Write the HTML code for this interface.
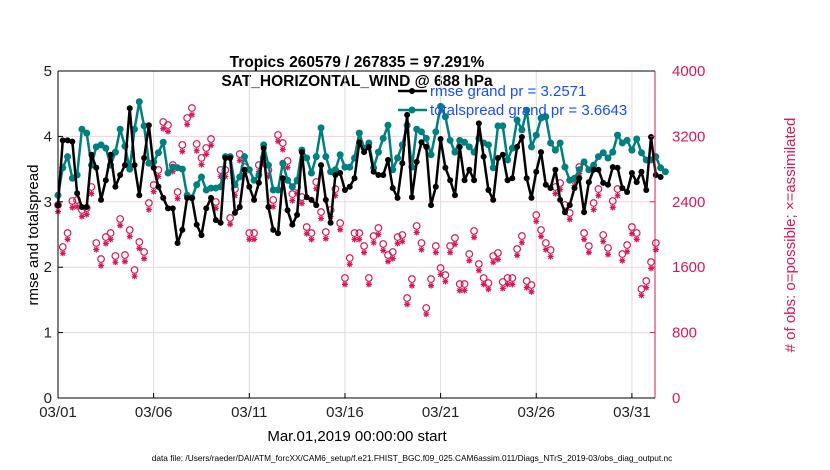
<!DOCTYPE html>
<html><head><meta charset="utf-8">
<style>
html,body{margin:0;padding:0;background:#fff;}
svg{display:block;font-family:"Liberation Sans",sans-serif;}
</style></head>
<body>
<svg id="chart" width="830" height="470" viewBox="0 0 830 470" xmlns="http://www.w3.org/2000/svg">
<rect width="830" height="470" fill="#fff"/>
<text x="357" y="67" text-anchor="middle" font-size="15.5" font-weight="bold">Tropics 260579 / 267835 = 97.291%</text>
<text x="357" y="86" text-anchor="middle" font-size="15.5" font-weight="bold">SAT_HORIZONTAL_WIND @ 688 hPa</text>
<g id="grid"></g>
<g id="obs"></g>
<g id="lines"></g>
<g id="axes"></g>
<g>
 <g>
  <line x1="398" y1="91" x2="427" y2="91" stroke="#000" stroke-width="2.5"/>
  <circle cx="412" cy="91" r="3" fill="#000"/>
  <text x="430" y="96" font-size="15" fill="#1a4cff">rmse grand pr = 3.2571</text>
 </g>
 <g>
  <line x1="398" y1="110" x2="427" y2="110" stroke="#007f7f" stroke-width="2.5"/>
  <circle cx="412" cy="110" r="3.5" fill="#007f7f"/>
  <text x="430" y="115" font-size="15" fill="#1a4cff">totalspread grand pr = 3.6643</text>
 </g>
</g>
<text transform="translate(38,235) rotate(-90)" text-anchor="middle" font-size="15">rmse and totalspread</text>
<text transform="translate(795,235) rotate(-90)" text-anchor="middle" font-size="15" fill="#d6195a"># of obs: o=possible; ×=assimilated</text>
<text x="357" y="441" text-anchor="middle" font-size="15">Mar.01,2019 00:00:00 start</text>
<text x="412" y="461" text-anchor="middle" font-size="8.3">data file: /Users/raeder/DAI/ATM_forcXX/CAM6_setup/f.e21.FHIST_BGC.f09_025.CAM6assim.011/Diags_NTrS_2019-03/obs_diag_output.nc</text>
</svg>
<script>
const rmse=[2.95,3.94,3.94,3.92,3.13,2.92,2.92,3.72,3.52,3.03,3.33,3.72,3.23,3.41,3.56,4.43,3.56,3.10,3.67,4.17,3.52,3.23,3.06,2.9,2.9,2.37,2.57,3.06,3.06,2.65,2.49,2.9,
3.06,2.72,2.68,3.67,3.67,2.83,2.92,3.49,3.23,3.03,3.29,3.82,2.92,2.57,2.52,3.36,2.87,2.65,2.80,3.76,3.07,3.03,2.95,3.56,3.03,2.68,3.41,3.44,3.18,3.23,3.36,3.91,
3.76,3.84,3.46,3.41,3.41,3.64,3.21,3.06,3.59,4.33,3.07,3.61,3.91,3.84,2.95,3.23,3.96,3.52,3.33,3.10,3.84,3.33,3.49,3.33,4.20,3.69,3.18,3.03,3.67,3.72,3.33,3.36,
3.84,3.99,3.36,3.06,3.46,3.76,3.26,3.21,3.49,3.03,2.84,2.95,3.21,3.36,2.84,3.30,3.49,3.49,3.29,3.26,3.53,3.52,3.21,3.15,3.44,3.30,3.46,3.18,3.99,3.41,3.38];
const spread=[3.10,3.52,3.69,3.36,3.41,4.11,4.05,3.56,3.84,3.87,3.82,3.56,3.76,4.11,3.85,3.5,4.11,4.53,4.16,3.59,3.61,3.75,3.91,3.44,3.53,3.52,3.5,3.10,3.06,3.26,3.38,3.18,
3.21,3.21,3.23,3.69,3.69,3.26,3.38,3.69,3.49,3.33,3.41,3.87,3.56,3.18,3.18,3.59,3.33,3.23,3.33,3.79,3.67,3.44,3.69,4.13,3.69,3.46,3.49,3.72,3.53,3.53,3.67,4.05,
3.82,3.90,3.52,3.76,3.97,4.17,3.49,3.67,3.87,4.17,3.53,4.11,4.07,3.97,3.72,4.07,4.46,4.30,3.94,3.76,3.94,3.91,3.84,3.76,3.97,3.90,3.87,3.52,4.16,4.16,3.64,3.82,
4.25,4.10,4.40,3.84,4.02,4.28,4.30,3.90,3.79,3.90,3.53,3.33,3.36,3.49,3.61,3.49,3.56,3.69,3.75,3.67,3.76,4.02,3.90,3.94,3.79,3.96,3.75,3.64,3.64,3.69,3.52,3.46];
const possible=[2361,1847,2018,2410,2422,2300,2324,2581,1896,1700,1969,2018,1737,2190,1749,2055,1566,1908,1786,2385,2605,2789,3376,3339,2850,2520,3095,3425,3547,3107,2936,3058,
3168,2398,2789,2789,2202,2556,2984,2825,2018,2018,2850,2936,2789,2422,3217,3119,2899,2495,2581,2458,2091,2018,2642,2275,2030,2300,2556,2140,1468,1712,2018,
2018,1859,1468,1981,2079,1884,1749,1786,1969,1994,1223,1455,2104,1896,1101,1455,1859,1590,1504,1859,1957,1394,1394,1761,2043,1639,1468,1406,1737,1774,1419,1468,
1468,1822,1981,1431,1382,2238,2055,1896,1810,2581,2630,2361,2263,2679,2825,2018,1859,2385,2556,1994,1835,2410,2556,1761,1871,2091,2018,1333,1431,1663,1896];
const assimilated=[2280,1770,1940,2330,2340,2220,2245,2500,1815,1620,1890,1940,1660,2110,1670,1975,1490,1830,1705,2305,2525,2710,3295,3260,2770,2440,3015,3345,3465,3025,2855,2980,
3090,2320,2710,2710,2125,2475,2905,2745,1940,1940,2770,2855,2710,2340,3140,3040,2820,2415,2500,2380,2010,1940,2560,2195,1950,2220,2475,2060,1390,1635,1940,
1940,1780,1390,1900,2000,1805,1670,1705,1890,1915,1145,1375,2025,1815,1025,1375,1780,1510,1425,1780,1880,1315,1315,1680,1965,1560,1390,1330,1660,1695,1340,1390,
1390,1745,1900,1350,1300,2160,1975,1815,1730,2500,2550,2280,2185,2600,2745,1940,1780,2305,2475,1915,1755,2330,2475,1680,1790,2010,1940,1255,1350,1585,1815];
const leftTicks=[0,1,2,3,4,5];
const rightTicks=[0,800,1600,2400,3200,4000];
const dateTicks=["03/01","03/06","03/11","03/16","03/21","03/26","03/31"];
const dateTickDays=[0,5,10,15,20,25,30];

const X0=58,X1=655,Y0=398,Y1=71,DAYPX=19.13;
const NS='http://www.w3.org/2000/svg';
const xs=d=>X0+d*DAYPX;
const xi=i=>xs(i*0.25);
const yl=v=>Y0-(v/5)*(Y0-Y1);
const yr=v=>Y0-(v/4000)*(Y0-Y1);
function mk(tag,attrs,parent){const e=document.createElementNS(NS,tag);for(const k in attrs)e.setAttribute(k,attrs[k]);parent.appendChild(e);return e;}
const grid=document.getElementById('grid'),axes=document.getElementById('axes'),obs=document.getElementById('obs'),lines=document.getElementById('lines');
const PINK='#d6195a';
dateTickDays.forEach((d,i)=>{
 const g=mk('line',{x1:xs(d),x2:xs(d),y1:Y1,y2:Y0,stroke:'#dcdcdc','stroke-width':1},grid);
 
 
 const t=mk('line',{x1:xs(d),x2:xs(d),y1:Y0,y2:Y0-5,stroke:'#000'},axes);
 
 
 const lb=mk('text',{x:xs(d),y:Y0+19,'text-anchor':'middle','font-size':15,fill:'#222'},axes);
 lb.textContent=dateTicks[i];
 
 
});
rightTicks.forEach(v=>{
 if(v>0&&v<4000){const g=mk('line',{x1:X0,x2:X1,y1:yr(v),y2:yr(v),stroke:'#f2d3dd','stroke-width':1},grid);
 
 }
 const t=mk('line',{x1:X1-5,x2:X1,y1:yr(v),y2:yr(v),stroke:PINK},axes);
 
 
 const lb=mk('text',{x:672,y:yr(v)+5,'font-size':15,fill:PINK},axes);
 lb.textContent=v;
 
 
});
leftTicks.forEach(v=>{
 const t=mk('line',{x1:X0,x2:X0+5,y1:yl(v),y2:yl(v),stroke:'#000'},axes);
 
 
 const lb=mk('text',{x:X0-6,y:yl(v)+5,'text-anchor':'end','font-size':15,fill:'#222'},axes);
 lb.textContent=v;
 
 
});
const ax1=mk('line',{x1:X0,x2:X0,y1:Y1,y2:Y0,stroke:'#000'},axes);


const ax2=mk('line',{x1:X0,x2:X1,y1:Y0,y2:Y0,stroke:'#000'},axes);


const ax3=mk('line',{x1:X0,x2:X1,y1:Y1,y2:Y1,stroke:'#000'},axes);


const ax4=mk('line',{x1:X1,x2:X1,y1:Y1,y2:Y0,stroke:PINK},axes);


possible.forEach((v,i)=>{
 const c=mk('circle',{cx:xi(i),cy:yr(v),r:3.3,fill:'none',stroke:PINK,'stroke-width':1.2},obs);
 
 
});
assimilated.forEach((v,i)=>{
 const x=xi(i),y=yr(v);
 const s=mk('path',{d:`M${x-3},${y}H${x+3}M${x},${y-3}V${y+3}M${x-2.2},${y-2.2}L${x+2.2},${y+2.2}M${x-2.2},${y+2.2}L${x+2.2},${y-2.2}`,stroke:PINK,'stroke-width':1.2},obs);
 
 
});
function series(arr,color,name,r){
 const p=mk('polyline',{points:arr.map((v,i)=>xi(i)+','+yl(v)).join(' '),fill:'none',stroke:color,'stroke-width':2.5,'stroke-linejoin':'round'},lines);
 
 
 arr.forEach((v,i)=>{
  const c=mk('circle',{cx:xi(i),cy:yl(v),r:r,fill:color},lines);
  
  
 });
}
series(spread,'#007f7f','totalspread',3.5);
series(rmse,'#000','rmse',3);
</script>
</body></html>
